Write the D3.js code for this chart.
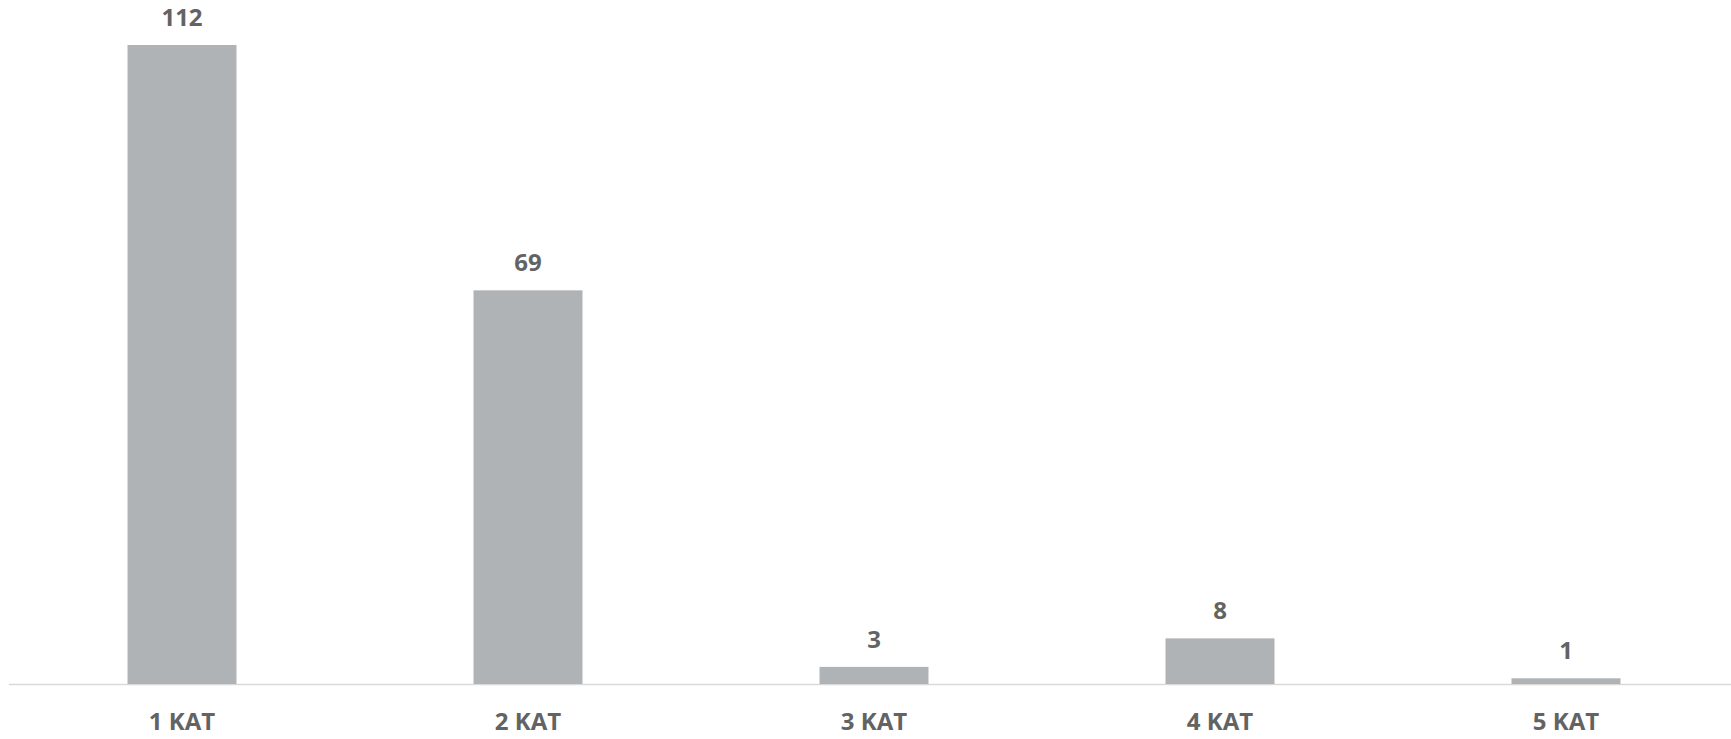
<!DOCTYPE html>
<html><head><meta charset="utf-8">
<script src="https://cdn.jsdelivr.net/npm/d3@7"></script>
<style>html,body{margin:0;padding:0;background:#fff;overflow:hidden}</style>
</head><body><svg id="c" width="1731" height="739"></svg>
<script>
const categories = ["1 KAT", "2 KAT", "3 KAT", "4 KAT", "5 KAT"];
const values = [112, 69, 3, 8, 1];

const svg = d3.select("#c");
const x = d3.scaleBand().domain(categories).range([9, 1739]).paddingInner(0.685).paddingOuter(0.3425);
const y = d3.scaleLinear().domain([0, 112]).range([684, 45]);
const font = "'Open Sans', sans-serif";

svg.append("line").attr("x1", 9).attr("x2", 1731).attr("y1", 684.5).attr("y2", 684.5)
  .attr("stroke", "#d9d9d9").attr("stroke-width", 1.5);

svg.selectAll("rect.bar").data(values).join("rect").attr("class", "bar")
  .attr("x", (d, i) => x(categories[i])).attr("width", x.bandwidth())
  .attr("y", d => y(d)).attr("height", d => y(0) - y(d)).attr("fill", "#b0b3b5");

svg.selectAll("text.val").data(values).join("text").attr("class", "val")
  .attr("x", (d, i) => x(categories[i]) + x.bandwidth() / 2).attr("y", d => y(d) - 19)
  .attr("text-anchor", "middle").attr("font-family", font).attr("font-weight", 700)
  .attr("font-size", 24).attr("fill", "#636363").text(d => d);

const xAxis = d3.axisBottom(x).tickSize(0).tickPadding(0);
const ax = svg.append("g").attr("transform", "translate(0,684)").call(xAxis);
ax.select(".domain").remove();
ax.selectAll("text").attr("font-family", font).attr("font-weight", 700).attr("font-size", 24)
  .attr("fill", "#636363").attr("dy", null).attr("y", 46);
</script></body></html>
